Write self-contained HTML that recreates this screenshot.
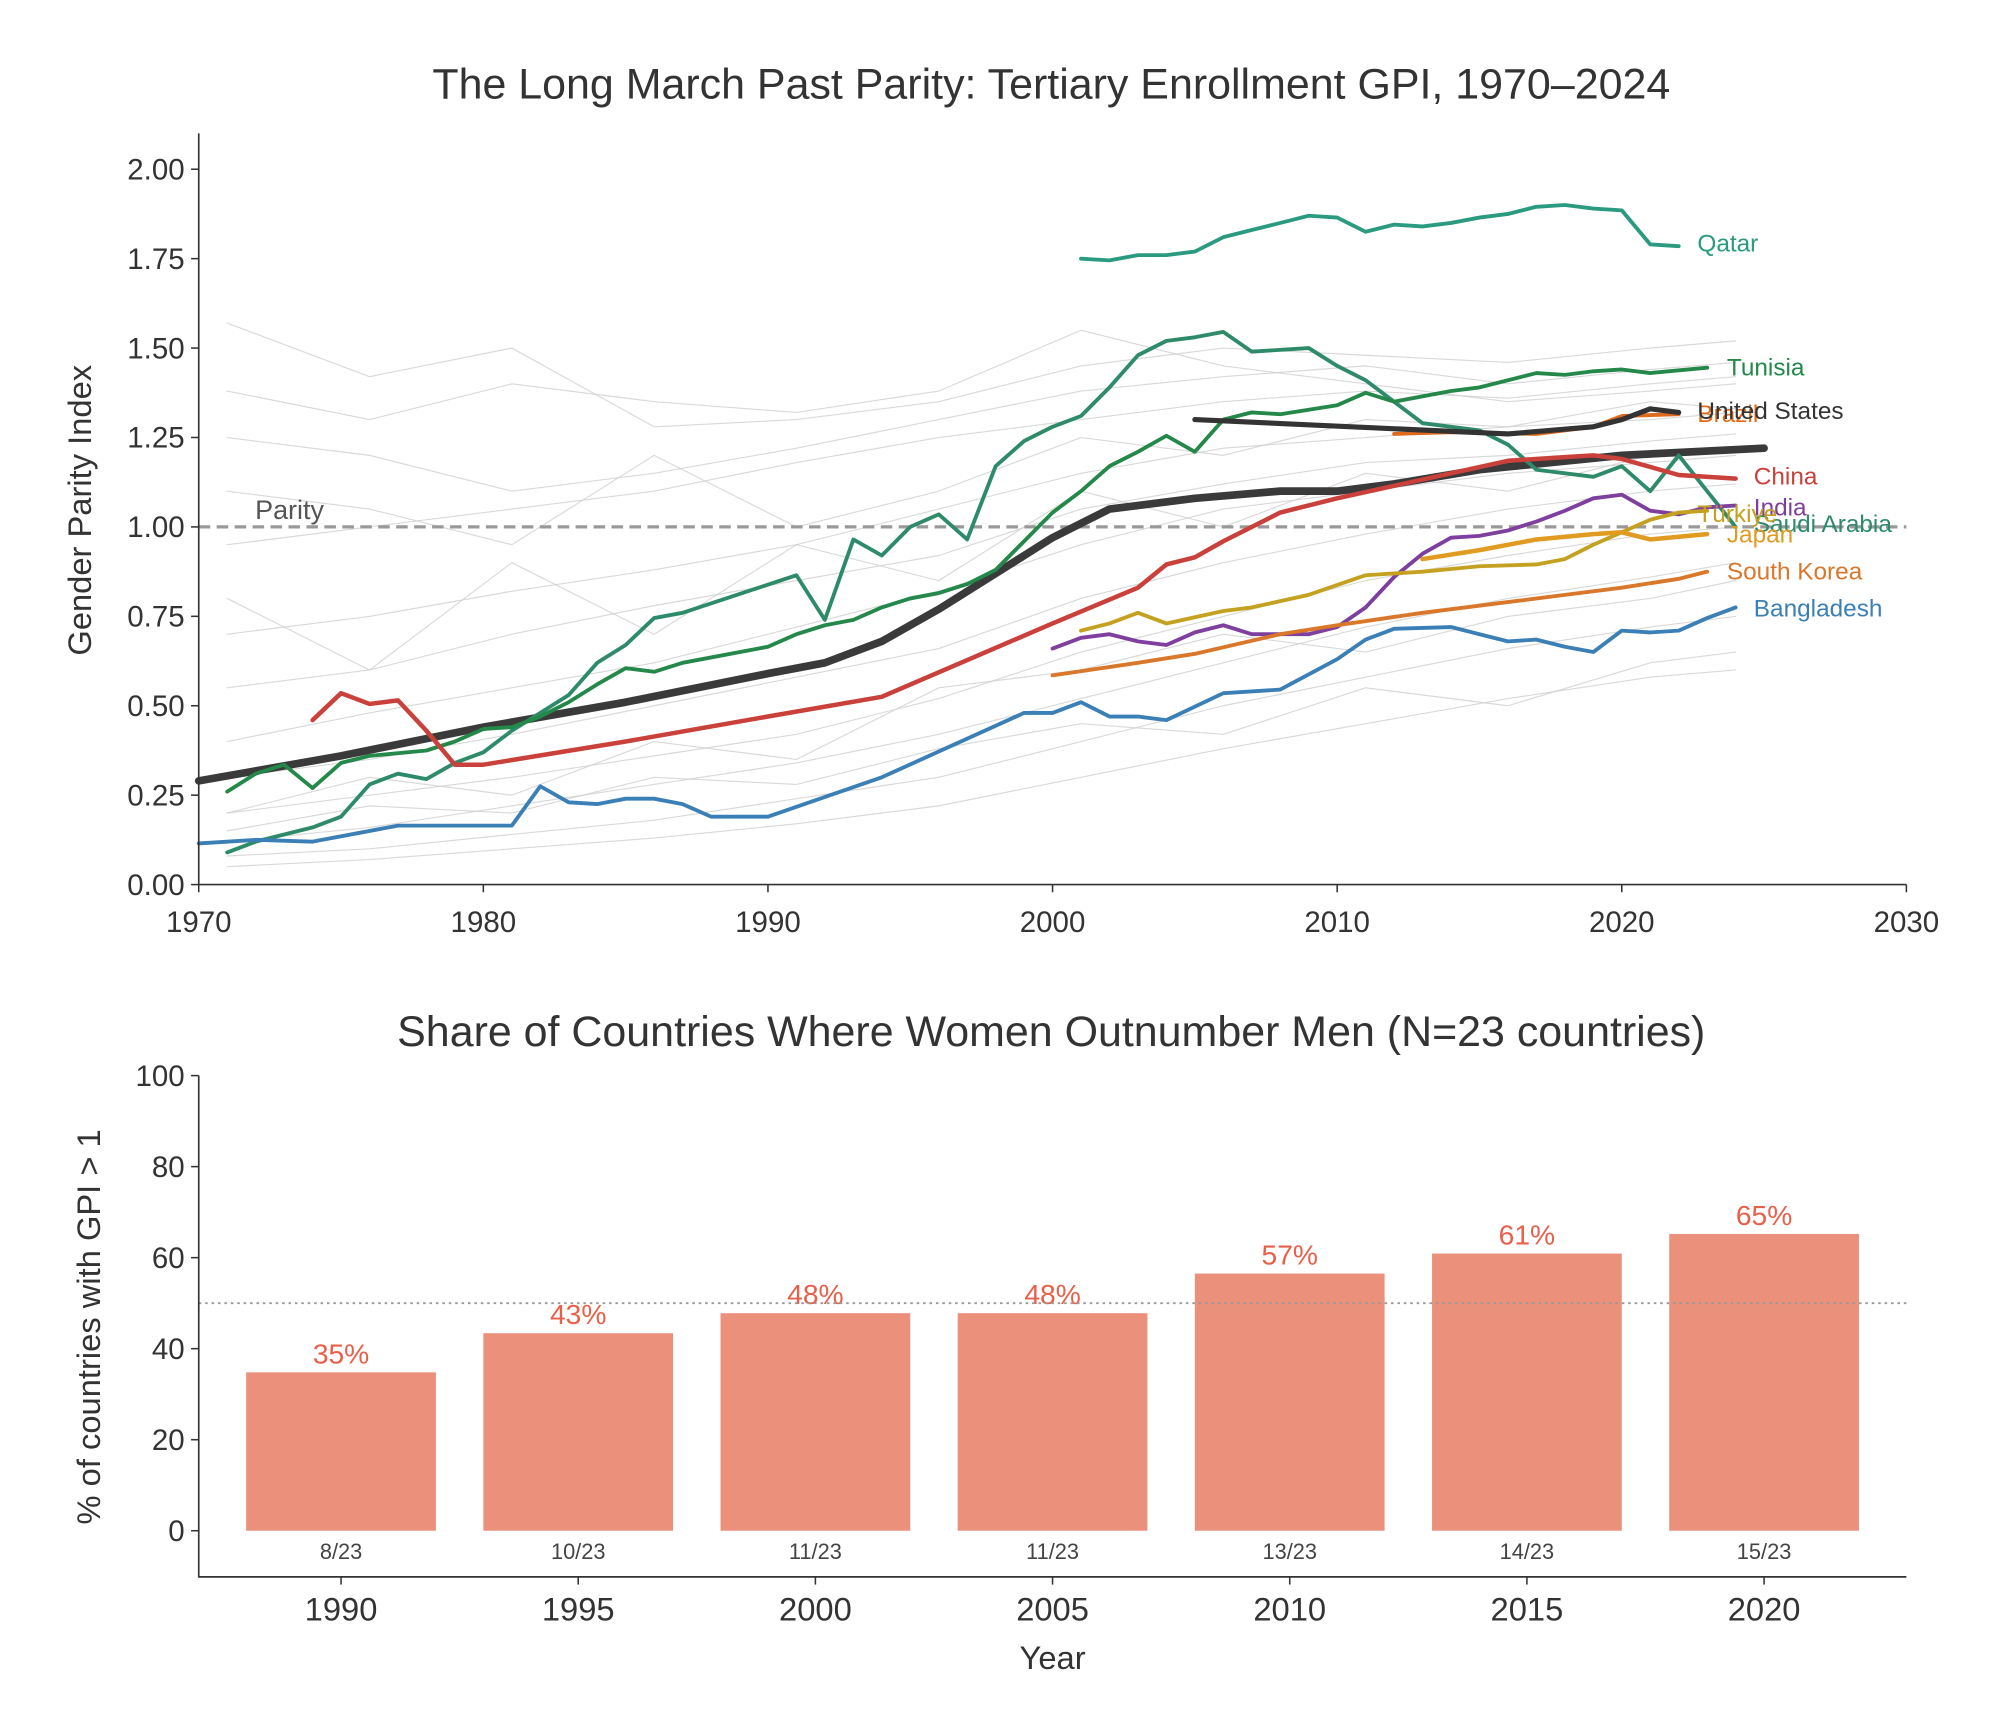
<!DOCTYPE html>
<html><head><meta charset="utf-8"><style>
html,body{margin:0;padding:0;background:#fff}
svg{display:block}
text{font-family:"Liberation Sans",sans-serif}
</style></head><body>
<svg id="chart" width="2000" height="1732" viewBox="0 0 1560 1351" xmlns="http://www.w3.org/2000/svg">
<g id="topg"></g>
<g id="botg"></g>
</svg>
<script>
// ---- top chart data ----
const avgYears=[1970,1975,1980,1985,1990,1992,1994,1996,1998,2000,2002,2005,2008,2010,2012,2015,2020,2025];
const avgVals=[0.29,0.36,0.44,0.51,0.59,0.62,0.68,0.77,0.87,0.97,1.05,1.08,1.10,1.10,1.12,1.16,1.20,1.22];
const usYears=[2005,2016,2019,2020,2021,2022];
const usVals=[1.30,1.26,1.28,1.30,1.33,1.32];
const brazilYears=[2012,2014,2017,2019,2020,2022];
const brazilVals=[1.26,1.265,1.26,1.28,1.31,1.315];
const qatarYears=[2001,2002,2003,2004,2005,2006,2007,2008,2009,2010,2011,2012,2013,2014,2015,2016,2017,2018,2019,2020,2021,2022];
const qatarVals=[1.75,1.745,1.76,1.76,1.77,1.81,1.83,1.85,1.87,1.865,1.825,1.845,1.84,1.85,1.865,1.875,1.895,1.90,1.89,1.885,1.79,1.785];
const saudiYears=[1971,1972,1973,1974,1975,1976,1977,1978,1979,1980,1981,1982,1983,1984,1985,1986,1987,1991,1992,1993,1994,1995,1996,1997,1998,1999,2000,2001,2002,2003,2004,2005,2006,2007,2009,2010,2011,2013,2015,2016,2017,2019,2020,2021,2022,2023,2024];
const saudiVals=[0.09,0.12,0.14,0.16,0.19,0.28,0.31,0.295,0.34,0.37,0.43,0.48,0.53,0.62,0.67,0.745,0.76,0.865,0.74,0.965,0.92,1.00,1.035,0.965,1.17,1.24,1.28,1.31,1.39,1.48,1.52,1.53,1.545,1.49,1.50,1.45,1.41,1.29,1.27,1.23,1.16,1.14,1.17,1.10,1.20,1.10,1.00];
const tunisiaYears=[1971,1972,1973,1974,1975,1976,1978,1979,1980,1981,1982,1983,1984,1985,1986,1987,1990,1991,1992,1993,1994,1995,1996,1997,1998,1999,2000,2001,2002,2003,2004,2005,2006,2007,2008,2010,2011,2012,2014,2015,2017,2018,2019,2020,2021,2023];
const tunisiaVals=[0.26,0.31,0.335,0.27,0.34,0.36,0.375,0.40,0.435,0.44,0.47,0.51,0.56,0.605,0.595,0.62,0.665,0.70,0.725,0.74,0.775,0.80,0.815,0.84,0.88,0.96,1.04,1.10,1.17,1.21,1.255,1.21,1.30,1.32,1.315,1.34,1.375,1.35,1.38,1.39,1.43,1.425,1.435,1.44,1.43,1.445];
const chinaYears=[1974,1975,1976,1977,1978,1979,1980,1985,1990,1994,2000,2003,2004,2005,2006,2008,2010,2012,2014,2016,2018,2019,2020,2022,2024];
const chinaVals=[0.46,0.535,0.505,0.515,0.43,0.335,0.335,0.40,0.47,0.525,0.73,0.83,0.895,0.915,0.96,1.04,1.08,1.115,1.15,1.185,1.195,1.20,1.19,1.145,1.135];
const bangYears=[1970,1972,1974,1977,1981,1982,1983,1984,1985,1986,1987,1988,1990,1994,1999,2000,2001,2002,2003,2004,2006,2008,2010,2011,2012,2014,2015,2016,2017,2018,2019,2020,2021,2022,2023,2024];
const bangVals=[0.115,0.125,0.12,0.165,0.165,0.275,0.23,0.225,0.24,0.24,0.225,0.19,0.19,0.30,0.48,0.48,0.51,0.47,0.47,0.46,0.535,0.545,0.63,0.685,0.715,0.72,0.70,0.68,0.685,0.665,0.65,0.71,0.705,0.71,0.745,0.775];
const indiaYears=[2000,2001,2002,2003,2004,2005,2006,2007,2009,2010,2011,2012,2013,2014,2015,2016,2017,2018,2019,2020,2021,2022,2023,2024];
const indiaVals=[0.66,0.69,0.70,0.68,0.67,0.705,0.725,0.70,0.70,0.72,0.775,0.86,0.925,0.97,0.975,0.99,1.015,1.045,1.08,1.09,1.045,1.035,1.055,1.06];
const turkYears=[2001,2002,2003,2004,2006,2007,2009,2011,2013,2015,2017,2018,2019,2020,2021,2022,2023];
const turkVals=[0.71,0.73,0.76,0.73,0.765,0.775,0.81,0.865,0.875,0.89,0.895,0.91,0.95,0.985,1.02,1.04,1.045];
const japanYears=[2013,2015,2017,2019,2020,2021,2023];
const japanVals=[0.91,0.935,0.965,0.98,0.985,0.965,0.98];
const koreaYears=[2000,2003,2005,2008,2010,2013,2016,2018,2020,2022,2023];
const koreaVals=[0.585,0.62,0.645,0.70,0.725,0.76,0.79,0.81,0.83,0.855,0.875];
const bgYears=[1971,1976,1981,1986,1991,1996,2001,2006,2011,2016,2021,2024];
const bgVals=[
[1.57,1.42,1.50,1.28,1.30,1.35,1.45,1.50,1.48,1.46,1.50,1.52],
[1.25,1.20,1.10,1.15,1.22,1.30,1.38,1.42,1.45,1.40,1.44,1.46],
[0.95,1.00,1.05,1.10,1.18,1.25,1.30,1.35,1.38,1.36,1.40,1.42],
[0.70,0.75,0.82,0.88,0.95,1.05,1.15,1.22,1.25,1.28,1.30,1.32],
[0.55,0.60,0.70,0.78,0.85,0.92,1.05,1.12,1.18,1.20,1.24,1.26],
[0.40,0.48,0.55,0.62,0.72,0.82,0.95,1.05,1.10,1.15,1.18,1.20],
[0.30,0.35,0.42,0.50,0.58,0.66,0.80,0.90,0.98,1.05,1.10,1.12],
[0.20,0.25,0.30,0.36,0.42,0.52,0.65,0.75,0.85,0.92,0.98,1.00],
[0.12,0.16,0.22,0.28,0.34,0.42,0.52,0.62,0.72,0.80,0.86,0.90],
[0.08,0.10,0.14,0.18,0.24,0.30,0.40,0.50,0.58,0.66,0.72,0.75],
[0.05,0.07,0.10,0.13,0.17,0.22,0.30,0.38,0.45,0.52,0.58,0.60],
[0.20,0.30,0.25,0.40,0.35,0.55,0.60,0.70,0.65,0.75,0.80,0.85],
[1.10,1.05,0.95,1.20,1.00,1.10,1.25,1.20,1.30,1.28,1.35,1.33],
[0.80,0.60,0.90,0.70,0.95,0.85,1.10,1.00,1.15,1.10,1.20,1.22],
[0.15,0.22,0.20,0.30,0.28,0.38,0.45,0.42,0.55,0.50,0.62,0.65],
[1.38,1.30,1.40,1.35,1.32,1.38,1.55,1.45,1.40,1.35,1.38,1.40]
];
// ---- bottom chart data ----
const barYears=[1990,1995,2000,2005,2010,2015,2020];
const barShares=[34.8,43.4,47.8,47.8,56.5,60.9,65.2];
const barCounts=["8/23","10/23","11/23","11/23","13/23","14/23","15/23"];
const yTicksTop=[0,0.25,0.5,0.75,1.0,1.25,1.5,1.75,2.0];
const xTicksTop=[1970,1980,1990,2000,2010,2020,2030];
const yTicksBot=[0,20,40,60,80,100];

const NS="http://www.w3.org/2000/svg";
function mk(parent,tag,attrs,txt){const e=document.createElementNS(NS,tag);for(const k in attrs)e.setAttribute(k,attrs[k]);if(txt!==undefined)e.textContent=txt;parent.appendChild(e);return e;}
const topG=document.getElementById('topg'),botG=document.getElementById('botg');
const X=y=>155+(y-1970)*(1332/60);
const Y=v=>690-v*279;
const TXT="#333";
let t=mk(topG,'text',{x:820,y:77,'text-anchor':'middle','font-size':33.5,fill:TXT},'The Long March Past Parity: Tertiary Enrollment GPI, 1970–2024');


function line(g,xs,vs,color,w,name,op){
  const d=xs.map((x,i)=>(i?'L':'M')+X(x).toFixed(1)+','+Y(vs[i]).toFixed(1)).join('');
  const p=mk(g,'path',{d:d,fill:'none',stroke:color,'stroke-width':w,'stroke-linejoin':'round','stroke-linecap':'round',opacity:op||1});
  
  
  return p;}
bgVals.forEach(vs=>{line(topG,bgYears,vs,'#d0d0d0',0.9,'background-country-line',0.8);});
let pl=mk(topG,'line',{x1:155,x2:1487,y1:Y(1),y2:Y(1),stroke:'#999','stroke-width':2.5,'stroke-dasharray':'9,5'});


t=mk(topG,'text',{x:199,y:Y(1)-6,'font-size':21,fill:'#555'},'Parity');


const series=[
 [saudiYears,saudiVals,'#2e8b6a',3,'saudi-arabia-line','Saudi Arabia',1368,409],
 [tunisiaYears,tunisiaVals,'#23884a',3,'tunisia-line','Tunisia',1347,287],
 [chinaYears,chinaVals,'#c9413a',3.5,'china-line','China',1368,372],
 [bangYears,bangVals,'#3a7fb5',3,'bangladesh-line','Bangladesh',1368,475],
 [indiaYears,indiaVals,'#7e3f9e',3,'india-line','India',1368,396],
 [turkYears,turkVals,'#c4a120',3,'turkiye-line','Türkiye',1324,401],
 [japanYears,japanVals,'#e09b20',3.5,'japan-line','Japan',1347,417],
 [koreaYears,koreaVals,'#d9772a',3,'south-korea-line','South Korea',1347,446],
 [brazilYears,brazilVals,'#e06a1c',3,'brazil-line','Brazil',1324,323],
 [qatarYears,qatarVals,'#2a9a80',3,'qatar-line','Qatar',1324,190],
 [usYears,usVals,'#333',4,'united-states-line','United States',1324,321]
];
line(topG,avgYears,avgVals,'#3a3a3a',6,'average-line');
series.forEach(s=>{line(topG,s[0],s[1],s[2],s[3],s[4]);});
series.forEach(s=>{const e=mk(topG,'text',{x:s[6],y:s[7]+6,'font-size':19,fill:s[2]},s[5]);
 
 });
let ax=mk(topG,'path',{d:'M155,104V690H1487',fill:'none',stroke:'#333','stroke-width':1.3});


yTicksTop.forEach(v=>{mk(topG,'line',{x1:149,x2:155,y1:Y(v),y2:Y(v),stroke:'#333','stroke-width':1.2});
 const e=mk(topG,'text',{x:144,y:Y(v)+8,'text-anchor':'end','font-size':23,fill:TXT},v.toFixed(2));
 
 });
xTicksTop.forEach(v=>{mk(topG,'line',{x1:X(v),x2:X(v),y1:690,y2:696,stroke:'#333','stroke-width':1.2});
 const e=mk(topG,'text',{x:X(v),y:727,'text-anchor':'middle','font-size':23,fill:TXT},v);
 
 });
t=mk(topG,'text',{x:0,y:0,transform:'translate(71,398) rotate(-90)','text-anchor':'middle','font-size':25.5,fill:TXT},'Gender Parity Index');



// ---- bottom ----
const BX=y=>155+(y-1987)*37;
const BY=v=>1194-v*3.55;
t=mk(botG,'text',{x:820,y:816,'text-anchor':'middle','font-size':33.5,fill:TXT},'Share of Countries Where Women Outnumber Men (N=23 countries)');


barYears.forEach((yr,i)=>{
 const v=barShares[i];
 const r=mk(botG,'rect',{x:BX(yr-2),y:BY(v),width:148,height:BY(0)-BY(v),fill:'#eb907b'});
 
 
 let e=mk(botG,'text',{x:BX(yr),y:BY(v)-7,'text-anchor':'middle','font-size':22,fill:'#e8604a'},Math.round(v)+'%');
 
 
 e=mk(botG,'text',{x:BX(yr),y:1216,'text-anchor':'middle','font-size':17,fill:'#444'},barCounts[i]);
 
 
});
let hl=mk(botG,'line',{x1:155,x2:1487,y1:BY(50),y2:BY(50),stroke:'#999','stroke-width':1.5,'stroke-dasharray':'2,3'});


ax=mk(botG,'path',{d:'M155,839V1230H1487',fill:'none',stroke:'#333','stroke-width':1.3});


yTicksBot.forEach(v=>{mk(botG,'line',{x1:149,x2:155,y1:BY(v),y2:BY(v),stroke:'#333','stroke-width':1.2});
 const e=mk(botG,'text',{x:144,y:BY(v)+8,'text-anchor':'end','font-size':23,fill:TXT},v);
 
 });
barYears.forEach(v=>{mk(botG,'line',{x1:BX(v),x2:BX(v),y1:1230,y2:1236,stroke:'#333','stroke-width':1.2});
 const e=mk(botG,'text',{x:BX(v),y:1264,'text-anchor':'middle','font-size':25.5,fill:TXT},v);
 
 });
t=mk(botG,'text',{x:821,y:1302,'text-anchor':'middle','font-size':25.5,fill:TXT},'Year');


t=mk(botG,'text',{x:0,y:0,transform:'translate(78,1035) rotate(-90)','text-anchor':'middle','font-size':25.5,fill:TXT},'% of countries with GPI > 1');


</script>
</body></html>
